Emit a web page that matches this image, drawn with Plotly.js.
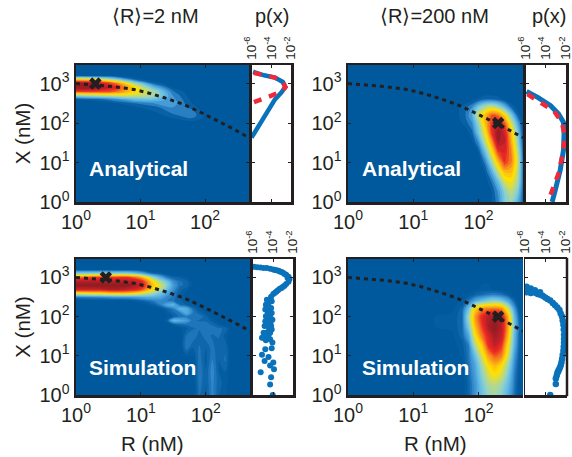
<!DOCTYPE html>
<html><head><meta charset="utf-8">
<script src="https://cdn.plot.ly/plotly-3.0.1.min.js"></script>
<style>html,body{margin:0;padding:0;background:#fff}#c{width:572px;height:457px}</style>
</head><body><div id="c"></div>
<script>
const ticksR=[0,1,2], ticksX=[0,1,2,3], ticksP=[-6,-4,-2];
const curveLogR=[0,.28,.59,.9,1.15,1.41,1.67,1.92,2.18,2.44,2.68];
const curveLogX=[3,2.97,2.92,2.85,2.75,2.62,2.47,2.28,2.07,1.85,1.63];

const a2R=[0,.3,.6,.9,1.2,1.5,1.8,2,2.681];
const a2X=[0,2,2.1,2.2,2.3,2.4,2.5,2.6,2.7,2.8,2.9,3,3.1,3.2,3.3,3.47];
const a2Z=[
[0,0,0,0,0,0,0,0,0],
[0,0,0,0,0,0,.1,0,0],
[0,0,0,0,0,.4,.9,.3,0],
[0,0,0,0,.1,.9,1.3,.4,0],
[0,0,0,.1,.5,1.2,1.2,.1,0],
[0,0,0,.4,.8,1.5,.8,0,0],
[0,.1,.4,1,1.5,1.8,.5,0,0],
[.5,.8,1.5,2.5,2.6,1.7,.3,0,0],
[3.5,4,4.5,4.5,3.8,1.5,.1,0,0],
[8,8,7.5,5.5,3.8,1.1,0,0,0],
[10,10,8.5,5.5,2.5,.4,0,0,0],
[10,9.5,7.5,4,1,0,0,0,0],
[6,5.5,3.5,1,0,0,0,0,0],
[.3,.3,.2,0,0,0,0,0,0],
[0,0,0,0,0,0,0,0,0],
[0,0,0,0,0,0,0,0,0]];

const a200R=[0,1.6,1.8,1.9,2,2.1,2.2,2.3,2.4,2.5,2.6,2.681];
const a200X=[0,.25,.5,.75,1,1.25,1.5,1.75,2,2.2,2.4,2.6,2.8,3.47];
const a200Z=[
[0,0,0,0,0,0,.5,1.3,3,3.6,2.2,.8],
[0,0,0,0,0,0,.5,1.6,3.2,4.2,3,.8],
[0,0,0,0,0,.1,1,2.5,4.5,5,3.8,1],
[0,0,0,0,0,.5,2,4.2,6,6,4.2,1],
[0,0,0,0,.1,1.2,3.5,6,8,7,4.5,1],
[0,0,0,0,.5,2.5,5,7.8,8.5,7,4.2,.9],
[0,0,0,.3,1.5,4,6.5,9.5,9,6.5,3.5,.6],
[0,0,.1,.8,2.8,5,8,10,8.8,6,3,.4],
[0,0,.7,1.5,3.5,6,8,9,7.5,4.5,2,.2],
[0,0,1,2,4.5,6,7.5,7.2,5.5,3,.8,0],
[0,.1,.8,1.5,3,4,4.5,3.8,2.5,1,.2,0],
[0,0,.1,.3,.6,1,1,.8,.3,0,0,0],
[0,0,0,0,0,0,0,0,0,0,0,0],
[0,0,0,0,0,0,0,0,0,0,0,0]];

const s2R=[0,.3,.6,.8,1,1.2,1.3,1.4,1.5,1.6,1.7,1.8,1.9,2,2.1,2.2,2.3,2.4,2.681];
const s2X=[0,.3,.6,.9,1.2,1.5,1.7,1.8,1.9,2,2.1,2.2,2.3,2.4,2.5,2.6,2.7,2.8,2.9,3,3.1,3.2,3.47];
const s2Z=[
[0,0,0,0,0,0,0,0,0,0,0,0,.8,.4,1.1,.5,.3,0,0],
[0,0,0,0,0,0,0,0,0,0,0,0,.9,.5,1.1,.6,.4,0,0],
[0,0,0,0,0,0,0,0,0,0,0,0,1,.5,1.2,.5,.5,0,0],
[0,0,0,0,0,0,0,0,0,0,0,.1,.9,.4,1,.5,.8,0,0],
[0,0,0,0,0,0,0,0,0,0,.9,.5,.8,.5,.9,.5,.7,0,0],
[0,0,0,0,0,0,0,0,0,0,.8,1,.6,.9,.7,.8,.4,0,0],
[0,0,0,0,0,0,0,0,0,.2,.4,.7,.8,1,.9,.8,.7,.1,0],
[0,0,0,0,0,0,0,0,.4,.7,.8,.9,1,.9,.7,.4,.1,0,0],
[0,0,0,0,0,0,0,.5,2.2,2,1.6,.8,.7,.7,.4,.1,0,0,0],
[0,0,0,0,0,0,0,.2,.5,.8,.9,.8,1,.6,.2,.1,0,0,0],
[0,0,0,0,0,0,.1,.3,.7,1,2,1,.6,.3,.1,0,0,0,0],
[0,0,0,0,0,.1,.2,.6,1,2.2,2,.8,.3,.1,0,0,0,0,0],
[0,0,0,0,.1,.5,1,1.8,2.2,.8,.5,.3,.1,0,0,0,0,0,0],
[0,.1,.1,.2,.5,1,1.1,1,.8,.6,.3,.1,0,0,0,0,0,0,0],
[1,1.2,1.5,1.5,1.8,2,1.8,1.2,.9,.5,.1,0,0,0,0,0,0,0,0],
[5,5.5,6,6,5,3.5,2.6,1.8,1,.5,.2,0,0,0,0,0,0,0,0],
[9,9,9.5,9,8,5,4,2.4,1.3,.6,.4,0,0,0,0,0,0,0,0],
[10,10,10,10,9,5.5,4.5,3,1.5,.8,.7,.2,0,0,0,0,0,0,0],
[9.3,9.3,9.3,9.3,8.5,5,3.5,2.5,1.2,.8,.6,.2,0,0,0,0,0,0,0],
[7,8,8,8,6.5,3.2,2,1,.6,.5,.3,0,0,0,0,0,0,0,0],
[3,3,3,3,2,.6,.4,.2,0,0,0,0,0,0,0,0,0,0,0],
[.2,.2,.2,.2,.1,0,0,0,0,0,0,0,0,0,0,0,0,0,0],
[0,0,0,0,0,0,0,0,0,0,0,0,0,0,0,0,0,0,0]];

const s200R=[0,1.6,1.75,1.85,1.95,2.05,2.15,2.25,2.35,2.45,2.55,2.62,2.681];
const s200X=[0,.25,.5,.75,1,1.25,1.5,1.75,2,2.2,2.4,2.55,2.7,3.47];
const s200Z=[
[0,0,0,.6,1.4,2.4,3.3,3.5,3,2,.8,.2,0],
[0,0,.1,.6,1.4,2.6,3.6,3.9,3.4,2.3,.9,.2,0],
[0,0,.1,.7,1.6,3,4.4,5,4.4,2.8,1,.3,0],
[0,0,.2,.8,1.8,3.5,5.2,6,5.2,3.5,1.2,.4,0],
[0,0,.3,.9,2.4,4.5,6.5,7.5,7,4.5,1.5,.5,.1],
[0,.1,.4,1,3.8,5.5,8,9,8,5.2,2,.6,.2],
[0,.2,.6,1.8,5,7,8.5,9.6,9,6,2.2,.7,.2],
[0,.3,.7,2.8,6,7.8,9.5,10,9.3,6.5,2.5,.8,.2],
[0,.3,.7,3.5,6.5,8.2,9.3,9.6,9,6.2,2.2,.6,.1],
[0,.2,.6,2.5,5.5,6.8,7,7.2,6.8,4.5,1.5,.3,0],
[0,.1,.3,.9,1.8,2.4,3,3.2,2.8,1.8,.6,.1,0],
[0,0,.1,.3,.6,.8,1,1.1,.9,.5,.2,0,0],
[0,0,0,.1,.2,.3,.3,.2,.1,0,0,0,0],
[0,0,0,0,0,0,0,0,0,0,0,0,0]];

const m1BlueP=[-5.84,-4.73,-3.62,-2.83,-2.57,-2.98,-3.62,-4.25,-4.89,-5.52,-6];
const m1BlueX=[3.3,3.21,3.15,3.04,2.91,2.77,2.6,2.35,2.06,1.81,1.63];
const m1RedP=[-5.78,-4.73,-3.62,-2.83,-2.57,-2.98,-3.94,-4.89,-5.84];
const m1RedX=[3.27,3.21,3.15,3.04,2.91,2.79,2.69,2.6,2.52];
const m2BlueP=[-5.9,-4.79,-3.52,-2.73,-2.25,-2.19,-2.25,-2.57,-3.05,-3.37];
const m2BlueX=[2.8,2.65,2.44,2.23,2.02,1.73,1.31,.81,.31,0];
const m2RedP=[-5.81,-4.48,-3.21,-2.41,-2.1,-2.32,-2.73,-3.21,-3.78];
const m2RedX=[2.73,2.52,2.31,2.02,1.65,1.23,.73,.4,0];
const m3P=[-5.9,-5.58,-5.26,-4.94,-4.61,-4.29,-3.97,-3.65,-3.32,-3,-2.68,-2.45,-2.35,-2.45,-2.68,-3,-3.32,-3.65,-3.97,-4.19,-4.39,-4.45,-4.52,-4.39,-4.52,-4.29,-4.45,-4.26,-4.52,-4.39,-4.71,-4.45,-4.94,-4.71,-4.29,-4.06,-4.77,-4.13,-5.1,-4.45,-4.84,-3.97,-4.29,-3.9,-5.23,-4.19,-4.29,-4.03,
 -4.61,-4.13,-4.71,-4.19,-4.77,-4.13,-4.71,-4.06,-4.77,-4.19,-4.84,-4.13,-4.94,-4.29,-5.1,-4.52,-3.8,-3.45,-3.15,-2.85,-2.55,-2.85,-3.15,-3.5,-3.8];
const m3X=[3.27,3.26,3.25,3.24,3.24,3.22,3.2,3.18,3.15,3.12,3.07,3.02,2.96,2.89,2.83,2.76,2.71,2.64,2.58,2.51,2.43,2.34,2.26,2.18,2.09,2.01,1.92,1.84,1.76,1.67,1.59,1.53,1.46,1.4,1.42,1.34,1.17,1.19,1.03,.97,.87,.83,.75,.66,.58,.45,.27,0,
 2.43,2.39,2.3,2.22,2.18,2.09,2.01,1.92,1.88,1.76,1.76,1.67,1.59,1.59,1.46,1.46,3.19,3.17,3.14,3.09,2.99,2.79,2.73,2.67,2.61];
const m4P=[-5.81,-5.62,-5.43,-5.21,-4.95,-4.73,-4.48,-4.25,-4,-3.78,-3.52,-3.27,-3.05,-2.83,-2.63,-2.51,-2.38,-2.32,-2.25,-2.22,-2.19,-2.19,-2.19,-2.22,-2.25,-2.32,-2.38,-2.44,-2.51,-2.6,-2.7,-2.76,-2.83,-2.89,-2.98,-2.98,-3.52,
 -5.8,-5.4,-5,-4.5,-5.8,-5.4];
const m4X=[2.69,2.68,2.66,2.63,2.61,2.58,2.56,2.53,2.49,2.45,2.41,2.35,2.29,2.23,2.17,2.08,2,1.9,1.79,1.67,1.54,1.43,1.33,1.23,1.13,1.02,.92,.83,.75,.69,.64,.6,.56,.5,.42,.28,0,
 2.76,2.72,2.67,2.62,2.62,2.6];

const pow=a=>a.map(v=>Math.pow(10,v));
const INK='#231f20', BLUE='#0a72ba', RED='#ee2a3a', FONT='"Liberation Sans",Arial,sans-serif';
const scale=[[0,'#00599c'],[.03,'#0a62a6'],[.06,'#1b72b6'],[.1,'#3a8ecf'],[.2,'#5fbbe8'],[.3,'#93d2c8'],[.4,'#c6da6c'],[.5,'#ffe100'],[.6,'#fdb515'],[.7,'#f47a20'],[.8,'#ee2a24'],[.9,'#c4202a'],[1,'#8c1c20']];
const W=572,H=457;
const panels=[
 {hx:[76,249],my:[65,202],mx:[251.5,291],R:a2R,X:a2X,Z:a2Z,step:.5,cross:[.3,3]},
 {hx:[348,523],my:[65,202],mx:[525.5,566],R:a200R,X:a200X,Z:a200Z,step:.5,cross:[2.3,2]},
 {hx:[76,250],my:[259,395],mx:[253,293],R:s2R,X:s2X,Z:s2Z,step:.25,cross:[.46,3]},
 {hx:[348,523],my:[259,395],mx:[524.5,566],R:s200R,X:s200X,Z:s200Z,step:.25,cross:[2.3,2]}
];
const data=[],layout={width:W,height:H,autosize:false,margin:{l:0,r:0,t:0,b:0},paper_bgcolor:'#fff',plot_bgcolor:'#fff',showlegend:false,font:{family:FONT,color:INK},annotations:[],shapes:[]};
const sup=(a)=>a.map(v=>'10<sup>'+v+'</sup>');
const ann=(text,x,y,size,color,bold)=>layout.annotations.push({text:bold?'<b>'+text+'</b>':text,xref:'paper',yref:'paper',x:x/W,y:1-y/H,showarrow:false,xanchor:'center',yanchor:'middle',font:{family:FONT,size,color}});
panels.forEach((p,i)=>{
 const hx=i*2+1,mx=i*2+2,ha=hx===1?'':hx,ma=mx;
 const dy=[1-p.my[1]/H,1-p.my[0]/H];
 const common={showgrid:false,zeroline:false,showline:true,linecolor:INK,linewidth:2.5,mirror:'ticks',ticks:'inside',tickcolor:INK,tickwidth:1,ticklen:3,type:'log',tickmode:'array'};
 const tf={family:FONT,size:20,color:INK};
 layout['xaxis'+ha]=Object.assign({},common,{domain:[p.hx[0]/W,p.hx[1]/W],range:[0,2.681],tickvals:pow(ticksR),ticktext:sup(ticksR),tickfont:tf,anchor:'y'+ha,tickangle:0});
 layout['yaxis'+ha]=Object.assign({},common,{domain:dy,range:[0,3.47],tickvals:pow(ticksX),ticktext:sup(ticksX),tickfont:tf,anchor:'x'+ha,mirror:i===3?false:'ticks',
   title:i%2===0?{text:'X (nM)',font:{family:FONT,size:20.5,color:INK},standoff:4}:undefined});
 layout['xaxis'+ma]=Object.assign({},common,{domain:[p.mx[0]/W,p.mx[1]/W],range:[-6,-2],tickvals:pow(ticksP),ticktext:ticksP.map(v=>'10<sup>'+v+'</sup>'),tickfont:{family:FONT,size:13.5,color:INK},tickangle:-90,side:'top',anchor:'y'+ma,ticklabeloverflow:'allow'});
 layout['yaxis'+ma]=Object.assign({},common,{domain:dy,range:[0,3.47],tickvals:pow(ticksX),showticklabels:false,anchor:'x'+ma,
   linewidth:i===3?1:2.5});
 data.push({type:'contour',xaxis:'x'+ha,yaxis:'y'+ha,x:pow(p.R),y:pow(p.X),z:p.Z,zmin:0,zmax:10,autocontour:false,colorscale:scale,showscale:false,hoverinfo:'skip',
   contours:{coloring:'fill',start:p.step,end:10,size:p.step,showlines:false},line:{width:0}});
 data.push({type:'scatter',mode:'lines',xaxis:'x'+ha,yaxis:'y'+ha,x:pow(curveLogR),y:pow(curveLogX),line:{color:INK,width:3,dash:'4px,4px'},hoverinfo:'skip'});
 data.push({type:'scatter',mode:'markers',xaxis:'x'+ha,yaxis:'y'+ha,x:pow([p.cross[0]]),y:pow([p.cross[1]]),marker:{symbol:'x',size:11,color:INK,line:{width:0}},hoverinfo:'skip'});
});
data.push({type:'scatter',mode:'lines',xaxis:'x2',yaxis:'y2',x:pow(m1BlueP),y:pow(m1BlueX),line:{color:BLUE,width:4.5}});
data.push({type:'scatter',mode:'lines',xaxis:'x2',yaxis:'y2',x:pow(m1RedP),y:pow(m1RedX),line:{color:RED,width:4.5,dash:'8px,8px'}});
data.push({type:'scatter',mode:'lines',xaxis:'x4',yaxis:'y4',x:pow(m2BlueP),y:pow(m2BlueX),line:{color:BLUE,width:5}});
data.push({type:'scatter',mode:'lines',xaxis:'x4',yaxis:'y4',x:pow(m2RedP),y:pow(m2RedX),line:{color:RED,width:4.5,dash:'8px,8px'}});
data.push({type:'scatter',mode:'markers',xaxis:'x6',yaxis:'y6',x:pow(m3P),y:pow(m3X),marker:{color:BLUE,size:6}});
data.push({type:'scatter',mode:'markers',xaxis:'x8',yaxis:'y8',x:pow(m4P),y:pow(m4X),marker:{color:BLUE,size:6.5}});
layout.shapes.push({type:'line',xref:'paper',yref:'paper',x0:567/W,x1:567/W,y0:1-396.2/H,y1:1-257.8/H,line:{color:INK,width:2.5}});
ann('⟨R⟩=2 nM',155,16,20,INK);
ann('p(x)',272,16,20,INK);
ann('⟨R⟩=200 nM',434,16,20,INK);
ann('p(x)',549,16,20,INK);
ann('Analytical',138,168,21,'#fff',true);
ann('Analytical',411,168,21,'#fff',true);
ann('Simulation',142,367,21,'#fff',true);
ann('Simulation',415,367,21,'#fff',true);
ann('R (nM)',152,443,20.5,INK);
ann('R (nM)',436,443,20.5,INK);
Plotly.newPlot('c',data,layout,{staticPlot:true,displayModeBar:false});
</script></body></html>
